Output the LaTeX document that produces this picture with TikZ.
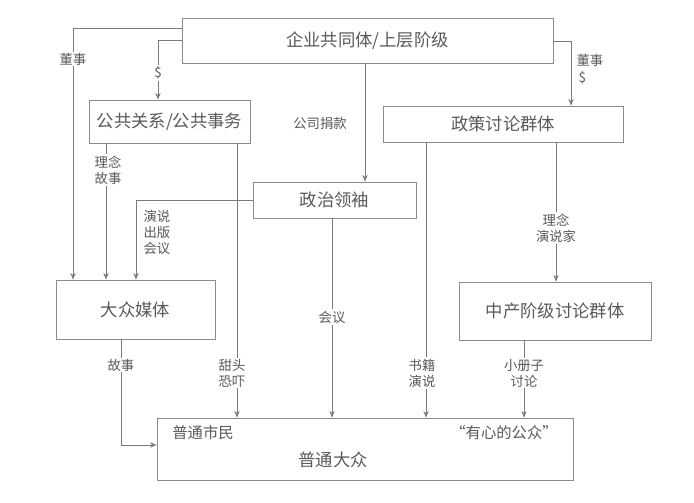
\documentclass[tikz,border=0pt]{standalone}
\usepackage{fontspec}
\setmainfont{Noto Sans CJK SC}
\usetikzlibrary{arrows.meta}
\definecolor{ink}{gray}{0.35}
\tikzset{
  box/.style={draw=ink!70, semithick, text=ink, font=\fontsize{13}{15}\selectfont, inner sep=0pt},
  link/.style={draw=ink!80, semithick, -{Stealth[length=5pt,width=4pt]}},
  lbl/.style={fill=white, text=ink, font=\fontsize{10}{12}\selectfont, inner sep=1pt, align=center}
}
\begin{document}
\begin{tikzpicture}[x=0.75pt,y=-0.75pt]
    \useasboundingbox (0,0) rectangle (694,503);

    % Boxes
    \node[box, minimum width=278.25pt, minimum height=33.75pt] (elite) at (367.5,40.5) {企业共同体/上层阶级};
    \node[box, minimum width=120.75pt, minimum height=32.25pt] (pr) at (169.5,121.5) {公共关系/公共事务};
    \node[box, minimum width=180pt, minimum height=27pt] (policy) at (503,124) {政策讨论群体};
    \node[box, minimum width=122.25pt, minimum height=27pt] (leader) at (334.5,200) {政治领袖};
    \node[box, minimum width=119.25pt, minimum height=44.25pt] (media) at (135.5,309.5) {大众媒体};
    \node[box, minimum width=144pt, minimum height=43.5pt] (middle) at (555,311) {中产阶级讨论群体};
    \node[box, minimum width=312pt, minimum height=46.5pt] (public) at (365,449) {};
    \node[text=ink, font=\fontsize{11.5}{13}\selectfont] (citizen) at (203,433) {普通市民};
    \node[text=ink, font=\fontsize{11.5}{13}\selectfont] (attentive) at (504,433) {“有心的公众”};
    \node[text=ink, font=\fontsize{13}{15}\selectfont] (mass) at (333,460) {普通大众};

    % Corporate community outward
    \draw[link] ([yshift=-8pt]elite.north west) -| (73,0 |- media.north);
    \node[lbl] at (73,59) {董事};
    \draw[link] ([yshift=-17pt]elite.north west) -| (158,0 |- pr.north);
    \node[lbl] at (158,73) {\$};
    \draw[link] ([yshift=-18pt]elite.north east) -| (571,0 |- policy.north);
    \node[lbl, anchor=west] at (575,60) {董事};
    \node[lbl, anchor=west] at (577,78) {\$};
    \draw[link] (365,0 |- elite.south) -- (365,0 |- leader.north);
    \node[lbl] at (320,123) {公司捐款};

    % Public relations
    \draw[link] (106,0 |- pr.south) -- (106,0 |- media.north);
    \node[lbl] at (108,170) {理念\\故事};
    \draw[link] (237,0 |- pr.south) -- (237,0 |- public.north);
    \node[lbl] at (232,373) {甜头\\恐吓};

    % Political leaders
    \draw[link] (leader.west) -| (136,0 |- media.north);
    \node[lbl, anchor=west] at (142,232) {演说\\出版\\会议};
    \draw[link] (332,0 |- leader.south) -- (332,0 |- public.north);
    \node[lbl] at (332,317) {会议};

    % Policy discussion groups
    \draw[link] (426,0 |- policy.south) -- (426,0 |- public.north);
    \node[lbl] at (422,373) {书籍\\演说};
    \draw[link] (556,0 |- policy.south) -- (556,0 |- middle.north);
    \node[lbl] at (556,228) {理念\\演说家};

    % Middle class and media
    \draw[link] (524,0 |- middle.south) -- (524,0 |- public.north);
    \node[lbl] at (524,373) {小册子\\讨论};
    \draw[link] (121,0 |- media.south) |- (public.west |- 0,445);
    \node[lbl] at (121,365) {故事};
\end{tikzpicture}
\end{document}
